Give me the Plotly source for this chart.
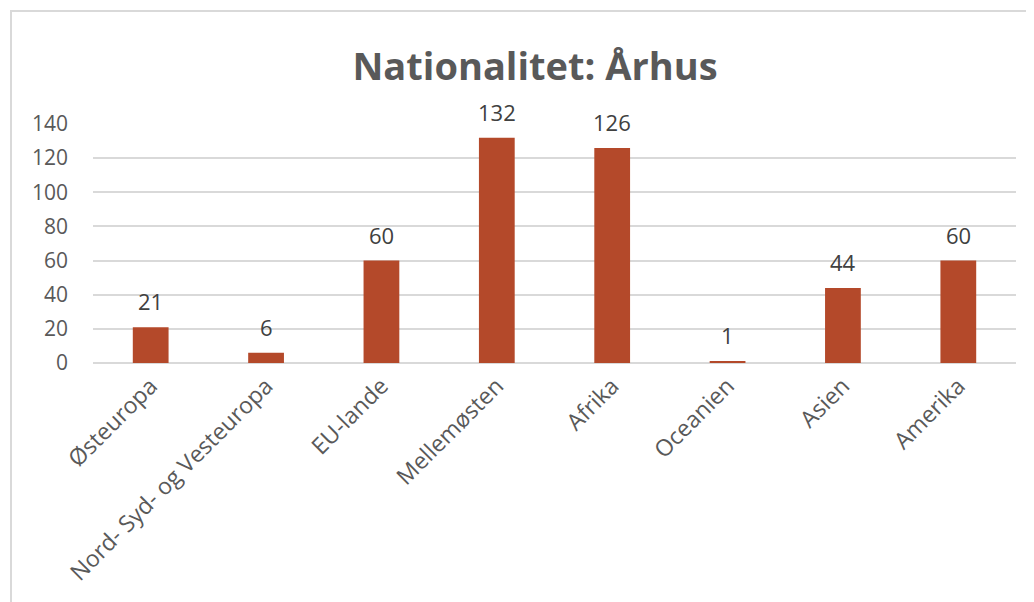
import plotly.graph_objects as go

# ── Data ───────────────────────────────────────────────────────
regions = [
    "Østeuropa",
    "Nord- Syd- og Vesteuropa",
    "EU-lande",
    "Mellemøsten",
    "Afrika",
    "Oceanien",
    "Asien",
    "Amerika",
]
counts = [21, 6, 60, 132, 126, 1, 44, 60]
y_ticks = [0, 20, 40, 60, 80, 100, 120, 140]

# ── Theme ──────────────────────────────────────────────────────
_BAR = "#B4492A"
_GRID = "#D9D9D9"
_TEXT = "#595959"
_LABEL = "#404040"
_FONT = "Open Sans, sans-serif"

# page body has an 8px margin, so the figure is a bit smaller than the window
W, H = 1026, 594
L, R, T, B = 85, 18, 116, 239

fig = go.Figure(
    go.Bar(
        x=regions,
        y=counts,
        marker=dict(color=_BAR, line=dict(width=0)),
        hovertemplate="%{x}: %{y}<extra></extra>",
    )
)

# data labels sit well above the bars, Excel style
for name, val in zip(regions, counts):
    fig.add_annotation(
        x=name,
        y=val,
        text=str(val),
        showarrow=False,
        yanchor="middle",
        yshift=26,
        font=dict(family=_FONT, size=22, color=_LABEL),
    )

# chart-area frame (right/bottom edges run off the page)
pw, ph = W - L - R, H - T - B
fig.add_shape(
    type="rect",
    xref="paper",
    yref="paper",
    x0=(3 - L) / pw,
    x1=(W + 20 - L) / pw,
    y0=-(B + 20) / ph,
    y1=1 + (T - 3) / ph,
    line=dict(color=_GRID, width=2),
    layer="below",
)

fig.update_layout(
    width=W,
    height=H,
    paper_bgcolor="white",
    plot_bgcolor="white",
    margin=dict(l=L, r=R, t=T, b=B, autoexpand=False),
    font=dict(family=_FONT, color=_TEXT, size=21),
    title=dict(
        text="<b>Nationalitet: Århus</b>",
        x=527 / W,
        xanchor="center",
        xref="container",
        y=1 - 59 / H,
        yanchor="middle",
        font=dict(family=_FONT, size=38, color=_TEXT),
    ),
    bargap=0.69,
    showlegend=False,
    xaxis=dict(
        tickangle=-45,
        showgrid=False,
        showline=False,
        ticks="",
        ticklabelstandoff=4,
        tickfont=dict(family=_FONT, size=23, color=_TEXT),
    ),
    yaxis=dict(
        range=[0, 140],
        tickvals=y_ticks,
        gridcolor=_GRID,
        gridwidth=1.5,
        zeroline=True,
        zerolinecolor=_GRID,
        zerolinewidth=1.5,
        showline=False,
        ticks="",
        ticklabelstandoff=24,
        tickfont=dict(family=_FONT, size=21, color=_TEXT),
    ),
)

fig.write_html("out.html")
